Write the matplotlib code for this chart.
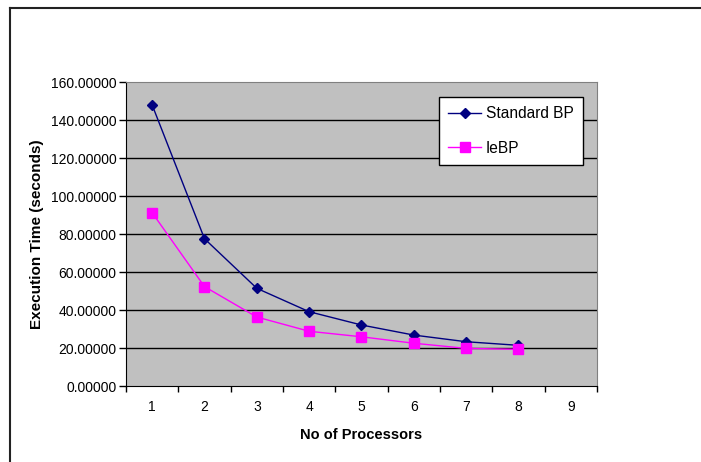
import matplotlib.pyplot as plt
from matplotlib.lines import Line2D

plt.rcParams['font.family'] = ['Liberation Sans', 'DejaVu Sans']

processors = [1, 2, 3, 4, 5, 6, 7, 8, 9]
standard_bp = [147.9, 77.5, 51.4, 39.1, 32.1, 26.8, 23.3, 21.4]
ie_bp = [91.2, 52.3, 36.3, 28.8, 25.9, 22.5, 19.8, 19.3]

fig = plt.figure(figsize=(7.01, 4.62), dpi=100)
ax = fig.add_axes([126 / 701, 76 / 462, 471 / 701, 304 / 462])
ax.set_facecolor('#c0c0c0')

x = processors[:len(standard_bp)]
ax.plot(x, standard_bp, color='#000080', marker='D', markersize=5, lw=1,
        label='Standard BP')
ax.plot(x, ie_bp, color='#ff00ff', marker='s', markersize=7, lw=1,
        label='IeBP')

ax.set_xlim(0.5, 9.5)
ax.set_ylim(0, 160)
ax.set_yticks(range(0, 161, 20))
ax.set_yticklabels([f'{v:.5f}' for v in range(0, 161, 20)])
ax.set_xticks(processors)
ax.set_xticklabels([str(p) for p in processors])
ax.set_xticks([p + 0.5 for p in range(0, 10)], minor=True)
ax.tick_params(axis='x', which='major', length=0, pad=10, labelsize=10)
ax.tick_params(axis='x', which='minor', length=4, width=1, direction='out')
ax.tick_params(axis='y', length=5, width=1, direction='out', labelsize=10, pad=2)

for v in range(20, 160, 20):
    ax.axhline(v, color='#000000', lw=1, zorder=1)

ax.spines['top'].set_color('#808080')
ax.spines['right'].set_color('#808080')
ax.spines['left'].set_color('black')
ax.spines['bottom'].set_color('black')

ax.set_xlabel('No of Processors', fontsize=10.5, fontweight='bold', labelpad=10)
ax.set_ylabel('Execution Time (seconds)', fontsize=11, fontweight='bold',
              labelpad=5)

leg = ax.legend(loc='upper left', bbox_to_anchor=((439 - 126) / 471, (386 - 97) / 304),
                frameon=True, fancybox=False, fontsize=11.2, handlelength=2.1,
                borderpad=0.6, labelspacing=1.25, handletextpad=0.3,
                borderaxespad=0)
leg.get_frame().set_edgecolor('black')
leg.get_frame().set_facecolor('white')
leg.get_frame().set_linewidth(1)
leg.get_frame().set_alpha(1)

# outer frame (top and left edges visible)
fig.add_artist(Line2D([9.5 / 701, 1], [1 - 7.5 / 462, 1 - 7.5 / 462],
                      transform=fig.transFigure, color='#222222', lw=1.5))
fig.add_artist(Line2D([9.5 / 701, 9.5 / 701], [0, 1 - 7.5 / 462],
                      transform=fig.transFigure, color='#222222', lw=1.5))

fig.savefig('out.png', dpi=100)
